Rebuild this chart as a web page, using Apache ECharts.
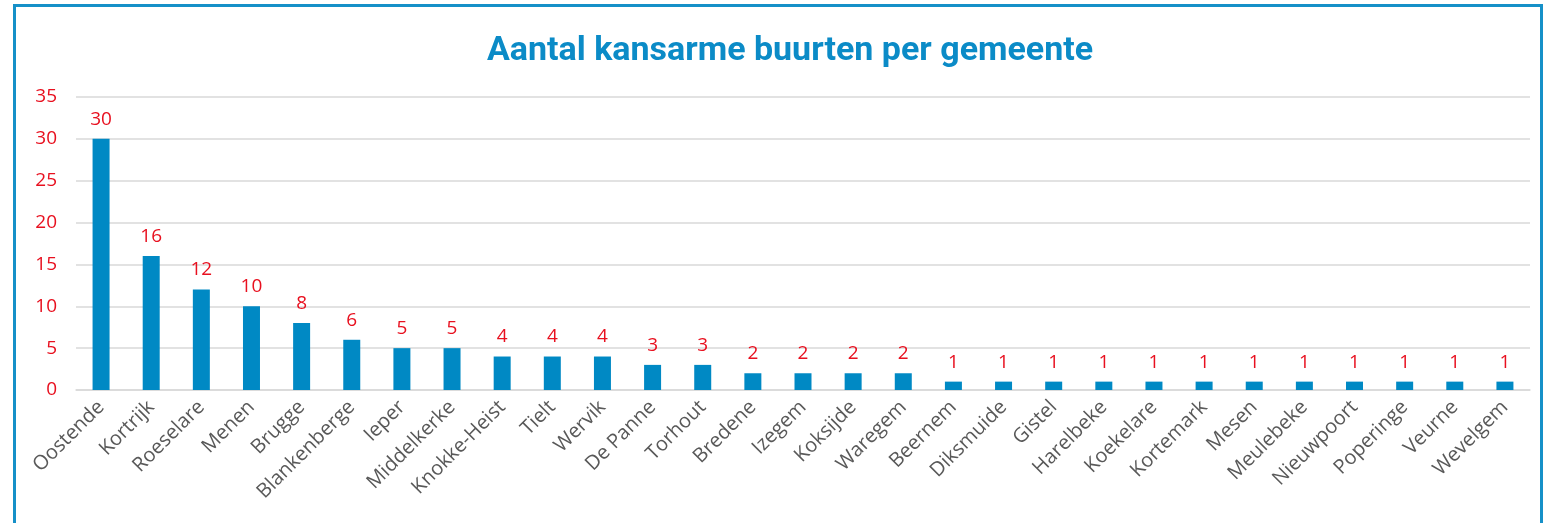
<!DOCTYPE html>
<html>
<head>
<meta charset="utf-8">
<script src="https://cdn.jsdelivr.net/npm/echarts@6/dist/echarts.min.js"></script>
<style>
  html, body { margin: 0; padding: 0; background: #fff; overflow: hidden; }
  #frame {
    position: absolute; left: 13px; top: 4px; width: 1530px; height: 540px;
    border: 3px solid #1690c8; box-sizing: border-box;
  }
  #chart { position: absolute; left: 0; top: 0; width: 1544px; height: 523px; }
</style>
</head>
<body>
<div id="frame"></div>
<div id="chart"></div>
<script>
const gemeenten = [
  "Oostende", "Kortrijk", "Roeselare", "Menen", "Brugge", "Blankenberge", "Ieper",
  "Middelkerke", "Knokke-Heist", "Tielt", "Wervik", "De Panne", "Torhout", "Bredene",
  "Izegem", "Koksijde", "Waregem", "Beernem", "Diksmuide", "Gistel", "Harelbeke",
  "Koekelare", "Kortemark", "Mesen", "Meulebeke", "Nieuwpoort", "Poperinge", "Veurne", "Wevelgem"
];
const aantalBuurten = [30, 16, 12, 10, 8, 6, 5, 5, 4, 4, 4, 3, 3, 2, 2, 2, 2, 1, 1, 1, 1, 1, 1, 1, 1, 1, 1, 1, 1];
const yTicks = { min: 0, max: 35, interval: 5 };

const chart = echarts.init(document.getElementById("chart"));
chart.setOption({
  animation: false,
  title: {
    text: "Aantal kansarme buurten per gemeente",
    left: 785, top: 29, textAlign: "center",
    textStyle: { color: "#0b8bc7", fontSize: 34, fontWeight: "bold", fontFamily: "Roboto" }
  },
  grid: { left: 76, right: 14, top: 97, bottom: 133, containLabel: false },
  xAxis: {
    type: "category",
    data: gemeenten,
    axisLine: { show: true, lineStyle: { color: "#d9d9d9", width: 1.5 } },
    axisTick: { show: false },
    axisLabel: {
      interval: 0, rotate: 45, margin: 14,
      color: "#595959", fontSize: 20, fontFamily: "Open Sans"
    }
  },
  yAxis: {
    type: "value",
    min: yTicks.min, max: yTicks.max, interval: yTicks.interval,
    axisLine: { show: false },
    axisTick: { show: false },
    axisLabel: { color: "#e8101f", fontSize: 19, fontFamily: "Open Sans", margin: 19 },
    splitLine: { lineStyle: { color: "#d9d9d9", width: 1.5 } }
  },
  series: [{
    type: "bar",
    data: aantalBuurten,
    barWidth: 17,
    itemStyle: { color: "#0089c4" },
    label: {
      show: true, position: "top", distance: 10,
      color: "#e8101f", fontSize: 19, fontFamily: "Open Sans"
    }
  }]
});
</script>
</body>
</html>
